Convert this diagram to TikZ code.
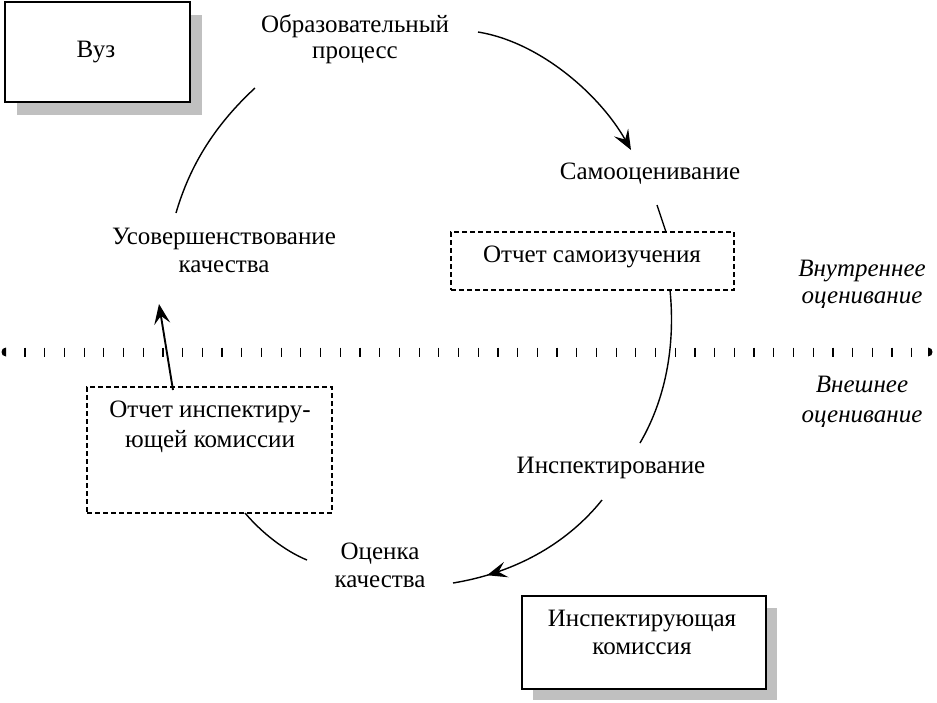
\documentclass[tikz,border=0pt]{standalone}
\usepackage{fontspec}
\setmainfont{Liberation Serif}
\usetikzlibrary{arrows.meta,decorations.markings}
\definecolor{shadowgray}{HTML}{C0C0C0}
\begin{document}
\begin{tikzpicture}[x=1pt,y=-1pt,
  txt/.style={font=\fontsize{25}{28}\selectfont, align=center, inner sep=0pt, anchor=base},
  itxt/.style={font=\fontsize{25}{28}\selectfont\itshape, align=center, inner sep=0pt, anchor=base},
  solidbox/.style={draw, line width=1.6pt, fill=white, inner sep=0pt},
  dashbox/.style={draw, line width=1.3pt, dash pattern=on 5pt off 3pt, inner sep=0pt},
  arcline/.style={line width=1.4pt},
  tipend/.style={-{Stealth[length=20pt,width=16pt,inset=8pt]}},
  tick/.style={line width=1.2pt},
]
\useasboundingbox (0,0) rectangle (937,702);

% shadows and solid boxes
\fill[shadowgray] (17,15) rectangle (202,115);
\node[solidbox, minimum width=185pt, minimum height=100pt] (vuzbox) at (97.5,52) {};
\node[txt] (vuz) at (96,57) {Вуз};

\fill[shadowgray] (533,608) rectangle (777,700);
\node[solidbox, minimum width=244pt, minimum height=93pt] (inspbox) at (644,642.5) {};
\node[txt] (insp) at (642,654) {Инспектирующая\\комиссия};

% dashed boxes
\node[dashbox, minimum width=283pt, minimum height=58pt] (selfbox) at (592.5,261) {};
\node[txt] (self) at (592,262) {Отчет самоизучения};
\node[dashbox, minimum width=245pt, minimum height=126pt] (repbox) at (209.5,450) {};
\node[txt, font=\fontsize{25}{30}\selectfont] (rep) at (210,447) {Отчет инспектиру-\\ющей комиссии};

% texts
\node[txt, font=\fontsize{25}{26}\selectfont] (obr) at (355,58) {Образовательный\\процесс};
\node[txt] (samo) at (650,179) {Самооценивание};
\node[txt] (usov) at (224,272) {Усовершенствование\\качества};
\node[txt] (inspekt) at (611,473) {Инспектирование};
\node[txt] (ocen) at (380,587) {Оценка\\качества};
\node[itxt, font=\fontsize{25}{27}\selectfont\itshape] (vnutr) at (862,303) {Внутреннее\\оценивание};
\node[itxt, font=\fontsize{25}{30}\selectfont\itshape] (vnesh) at (862,422) {Внешнее\\оценивание};

% dotted divider
\foreach \i in {0,...,45} \draw[tick] ({25+19.705*\i},347.5) -- ++(0,9);
\fill (6,347.5) -- (6,356.5) .. controls (0,356.5) and (0,347.5) .. (6,347.5);
\fill (928,347.5) -- (928,356.5) .. controls (934,356.5) and (934,347.5) .. (928,347.5);

% cycle connectors
\coordinate (a1) at (478,32);
\coordinate (b1) at (631,150);
\coordinate (a2) at (657,205);
\coordinate (b2) at (666,232);
\coordinate (a3) at (670,290);
\coordinate (b3) at (640,443);
\coordinate (a4) at (602,500);
\coordinate (b4) at (453,583);
\coordinate (a5) at (307,560);
\coordinate (b5) at (245,513);
\coordinate (a6) at (176,213);
\coordinate (b6) at (255,88);
\coordinate (a7) at (173,390);
\coordinate (b7) at (159,304);

\draw[arcline, tipend] (a1) .. controls (540,42) and (600,95) .. (b1);
\draw[arcline] (a2) -- (b2);
\draw[arcline] (a3) .. controls (675,340) and (668,395) .. (b3);
\draw[arcline, decoration={markings, mark=at position 0.8 with {\arrow{Stealth[length=20pt,width=16pt,inset=8pt]}}}, postaction={decorate}]
  (a4) .. controls (570,540) and (520,572) .. (b4);
\draw[arcline] (a5) .. controls (285,551) and (262,533) .. (b5);
\draw[arcline] (a6) .. controls (190,165) and (215,125) .. (b6);
\draw[line width=1.9pt, tipend] (a7) -- (b7);
\end{tikzpicture}
\end{document}
